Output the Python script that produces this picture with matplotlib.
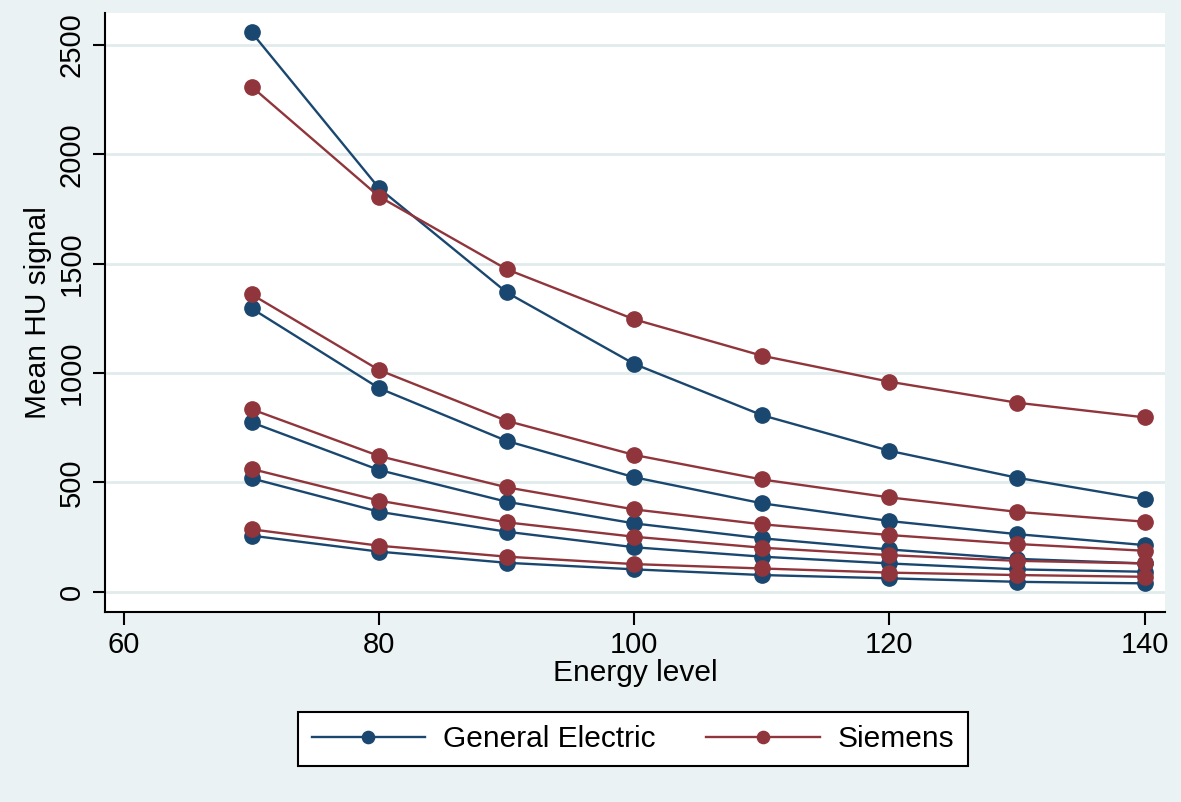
import numpy as np
import matplotlib.pyplot as plt

plt.rcParams['font.family'] = ['Liberation Sans', 'DejaVu Sans']

energy = [70, 80, 90, 100, 110, 120, 130, 140]

# General Electric, five phantoms
ge_1 = [2557, 1844, 1368, 1041, 807, 644, 521, 422]
ge_2 = [1295, 930, 689, 523, 404, 323, 263, 213]
ge_3 = [774, 556, 411, 312, 244, 193, 150, 129]
ge_4 = [518, 365, 274, 203, 160, 129, 102, 91]
ge_5 = [256, 183, 132, 102, 76, 61, 45, 38]

# Siemens, five phantoms
sie_1 = [2309, 1806, 1474, 1245, 1079, 960, 864, 797]
sie_2 = [1359, 1013, 781, 625, 513, 431, 365, 320]
sie_3 = [834, 620, 477, 376, 308, 259, 218, 187]
sie_4 = [561, 416, 317, 251, 201, 167, 141, 129]
sie_5 = [285, 210, 160, 126, 106, 87, 76, 68]

ge_series = [ge_1, ge_2, ge_3, ge_4, ge_5]
sie_series = [sie_1, sie_2, sie_3, sie_4, sie_5]

navy = '#1A476F'
maroon = '#90353B'
bg = '#EAF2F3'

fig = plt.figure(figsize=(11.81, 8.02), dpi=100, facecolor=bg)
ax = fig.add_axes([105/1181, 1-612/802, (1165-105)/1181, (612-13)/802])
ax.set_facecolor('white')

for i in range(5):
    ax.plot(energy, ge_series[i], color=navy, lw=1.7, marker='o', ms=11,
            label='General Electric' if i == 0 else None, zorder=3)
    ax.plot(energy, sie_series[i], color=maroon, lw=1.7, marker='o', ms=11,
            label='Siemens' if i == 0 else None, zorder=3)

ax.set_xlim(58.5, 141.6)
ax.set_ylim(-93, 2646)
ax.set_xticks([60, 80, 100, 120, 140])
ax.set_yticks([0, 500, 1000, 1500, 2000, 2500])
ax.set_yticklabels(['0', '500', '1000', '1500', '2000', '2500'], rotation=90, va='center')
ax.grid(axis='y', color='#E1EBEC', lw=2)
ax.set_axisbelow(True)

for s in ['top', 'right']:
    ax.spines[s].set_visible(False)
ax.spines['left'].set_linewidth(1.5)
ax.spines['bottom'].set_linewidth(1.5)
ax.tick_params(labelsize=21, length=9, width=1.5, direction='out', pad=5)

ax.set_xlabel('Energy level', fontsize=21.5, labelpad=0)
ax.set_ylabel('Mean HU signal', fontsize=21.5, labelpad=4)

leg = fig.legend(loc='center', bbox_to_anchor=(633/1181, 1-739/802), ncol=2,
                 fontsize=21.5, frameon=True, fancybox=False, edgecolor='black',
                 framealpha=1, handlelength=3.8, handletextpad=0.6,
                 columnspacing=1.7, borderpad=0.45, markerscale=0.8)
leg.get_frame().set_linewidth(1.5)

plt.savefig('out.png', dpi=100, facecolor=bg)
